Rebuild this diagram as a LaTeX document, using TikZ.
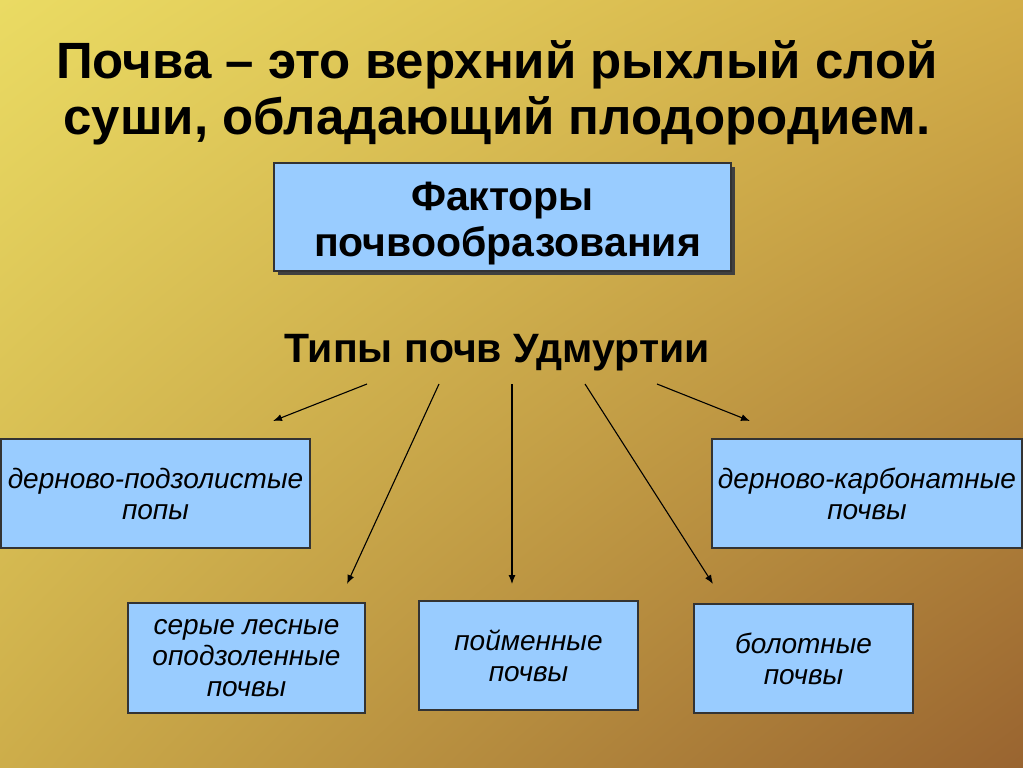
\documentclass[tikz,border=0pt]{standalone}
\usepackage{fontspec}
\setmainfont{Liberation Sans}
\usetikzlibrary{arrows.meta}
\usetikzlibrary{shadows}
\usetikzlibrary{shadings}

\definecolor{bgtl}{HTML}{EADB63}
\definecolor{bgtr}{HTML}{D3AE48}
\definecolor{bgbl}{HTML}{CDAD4A}
\definecolor{bgbr}{HTML}{996430}
\definecolor{boxblue}{HTML}{99CCFF}
\definecolor{boxline}{HTML}{333333}

\tikzset{
  soilbox/.style={draw=boxline, fill=boxblue, line width=1.2pt, align=center,
                  inner sep=0pt, font=\itshape\fontsize{28}{31}\selectfont},
  factorbox/.style={draw=boxline, fill=boxblue, line width=1.2pt, align=center,
                  inner sep=0pt, font=\bfseries\fontsize{41}{46}\selectfont,
                  drop shadow={shadow xshift=4pt, shadow yshift=-4pt, fill=black!75, opacity=1}},
  typearrow/.style={line width=1.1pt, -{Latex[length=9pt,width=7pt]}}
}

\begin{document}
\begin{tikzpicture}[x=1pt,y=-1pt]

            %\draw [help lines] (0,0) grid (1023,768);

            \useasboundingbox (0,0) rectangle (1023,768);
            \shade[upper left=bgtl, upper right=bgtr, lower left=bgbl, lower right=bgbr]
                (0,0) rectangle (1023,768);

            \path   (497,93) node (title) [align=center, font=\bfseries\fontsize{51}{56}\selectfont]
                        {Почва – это верхний рыхлый слой\\суши, обладающий плодородием.}
                    (502.5,217) node (factors) [factorbox, minimum width=457pt, minimum height=108pt]
                        {\rule{0pt}{42pt}Факторы\\\hspace*{10pt}почвообразования}
                    (497,353) node (types) [font=\bfseries\fontsize{41}{46}\selectfont]
                        {Типы почв Удмуртии}
                    (155.5,493.5) node (sodpod) [soilbox, minimum width=309pt, minimum height=109pt]
                        {дерново-подзолистые\\попы}
                    (867,493.5) node (sodcarb) [soilbox, minimum width=310pt, minimum height=109pt]
                        {дерново-карбонатные\\почвы}
                    (246.5,658) node (grey) [soilbox, minimum width=237pt, minimum height=110pt]
                        {серые лесные\\оподзоленные\\почвы}
                    (528.5,655.5) node (flood) [soilbox, minimum width=219pt, minimum height=109pt]
                        {пойменные\\почвы}
                    (803.5,658.5) node (bog) [soilbox, minimum width=219pt, minimum height=109pt]
                        {болотные\\почвы};

            \coordinate (s1) at (367,384);
            \coordinate (s2) at (439,384);
            \coordinate (s3) at (512,384);
            \coordinate (s4) at (585,384);
            \coordinate (s5) at (657,384);
            \coordinate (t1) at (273,421);
            \coordinate (t2) at (347,584);
            \coordinate (t3) at (512,584);
            \coordinate (t4) at (713,584);
            \coordinate (t5) at (750,421);

            \draw[typearrow] (s1) -- (t1);
            \draw[typearrow] (s2) -- (t2);
            \draw[typearrow] (s3) -- (t3);
            \draw[typearrow] (s4) -- (t4);
            \draw[typearrow] (s5) -- (t5);
        \end{tikzpicture}
\end{document}
